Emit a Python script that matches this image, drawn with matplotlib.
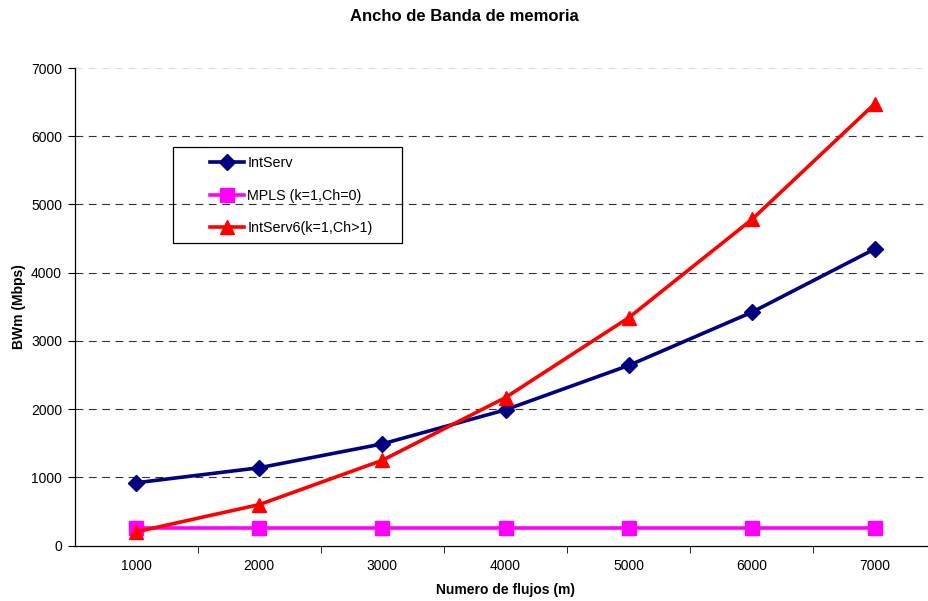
import numpy as np
import matplotlib
matplotlib.use("Agg")
from matplotlib import pyplot as plt
from matplotlib.patches import Rectangle

plt.rcParams['font.family'] = ['Liberation Sans', 'DejaVu Sans']

# datos de ancho de banda de memoria
flujos = [1000, 2000, 3000, 4000, 5000, 6000, 7000]
intserv = [920, 1140, 1490, 1990, 2640, 3420, 4350]
mpls = [250, 250, 250, 250, 250, 250, 250]
intserv6 = [200, 600, 1250, 2170, 3340, 4780, 6480]

fig = plt.figure(figsize=(9.29, 6.01), dpi=100)
ax = fig.add_axes([0.0802, 0.0923, 0.928, 0.7945])

pos = np.arange(1, len(flujos) + 1)

# lineas horizontales de la rejilla
for v in range(1000, 7000, 1000):
    ax.axhline(v, color='#333333', lw=0.8, dashes=(7, 5), zorder=1)
ax.axhline(7000, color='#dddddd', lw=0.8, dashes=(7, 5), zorder=1)

ax.plot(pos, intserv, color='#000080', lw=2.6, marker='D', markersize=8,
        label='IntServ', zorder=3)
ax.plot(pos, mpls, color='#FF00FF', lw=2.6, marker='s', markersize=9.5,
        label='MPLS (k=1,Ch=0)', zorder=3)
ax.plot(pos, intserv6, color='#FF0000', lw=2.6, marker='^', markersize=10,
        label='IntServ6(k=1,Ch>1)', zorder=4)

ax.set_xlim(0.5, len(flujos) + 0.5)
ax.set_ylim(0, 7000)
ax.set_yticks(range(0, 8000, 1000))
ax.set_xticks(pos)
ax.set_xticklabels([str(f) for f in flujos])
ax.set_xticks(np.arange(1.5, len(flujos) + 0.5, 1), minor=True)

ax.tick_params(axis='x', which='major', length=0, pad=10, labelsize=10)
ax.tick_params(axis='x', which='minor', length=5, direction='out', color='#000000')
ax.tick_params(axis='y', length=5, direction='out', labelsize=10, pad=4)

for s in ['top', 'right']:
    ax.spines[s].set_visible(False)
ax.spines['left'].set_linewidth(0.9)
ax.spines['bottom'].set_linewidth(0.9)

fig.text(0.5, 0.9725, 'Ancho de Banda de memoria', ha='center', va='center',
         fontsize=12, fontweight='bold')
ax.set_xlabel('Numero de flujos (m)', fontsize=10, fontweight='bold')
ax.xaxis.set_label_coords((505 - 74.5) / (0.928 * 929), -0.079)
ax.set_ylabel('BWm (Mbps)', fontsize=10, fontweight='bold')
ax.yaxis.set_label_coords((26 - 74.5) / (0.928 * 929), 0.5)

# leyenda sin marco; el recuadro se dibuja aparte
leg = ax.legend(loc='upper left', bbox_to_anchor=(210 / 929, 1 - 156 / 601),
                bbox_transform=fig.transFigure, fontsize=10.3, frameon=False,
                borderpad=0, labelspacing=1.3, handlelength=2.35,
                handletextpad=0.25, borderaxespad=0)
fig.patches.append(Rectangle((173 / 929, 1 - 243 / 601), 229 / 929, 96 / 601,
                             transform=fig.transFigure, fill=False,
                             edgecolor='#000000', lw=0.9, zorder=5))

plt.savefig('out.png', dpi=100)
